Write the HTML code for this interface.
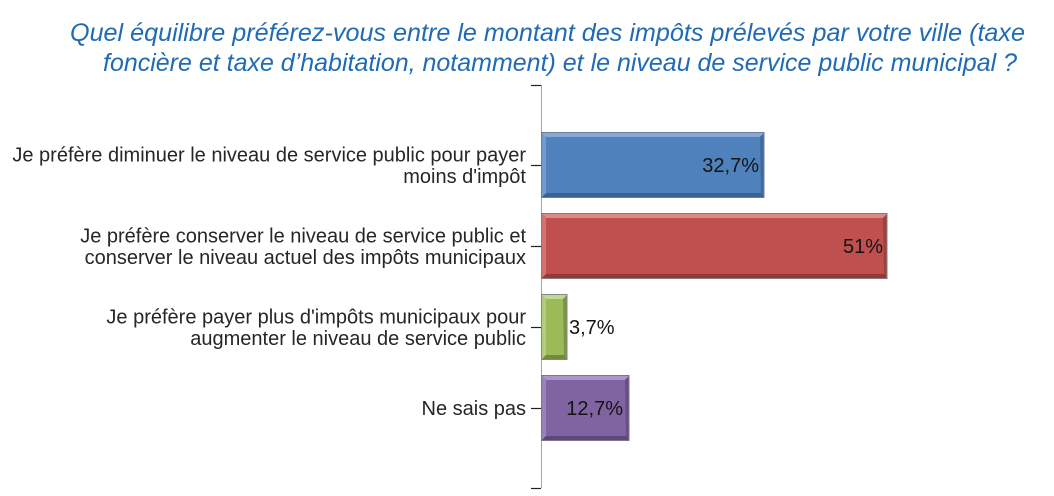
<!DOCTYPE html>
<html>
<head>
<meta charset="utf-8">
<style>
  html,body{margin:0;padding:0;background:#fff;}
  svg{display:block;}
  .t{font-family:"Liberation Sans",Arial,sans-serif;font-style:italic;font-size:25px;fill:#1f6bb5;}
  .l{font-family:"Liberation Sans",Arial,sans-serif;font-size:20px;fill:#262626;}
  .d{font-family:"Liberation Sans",Arial,sans-serif;font-size:20px;fill:#141414;}
</style>
</head>
<body>
<svg width="1054" height="496" viewBox="0 0 1054 496" xmlns="http://www.w3.org/2000/svg">
  <rect width="1054" height="496" fill="#fff"/>
  <!-- Title -->
  <text class="t" x="70" y="41" textLength="955" lengthAdjust="spacingAndGlyphs">Quel équilibre préférez-vous entre le montant des impôts prélevés par votre ville (taxe</text>
  <text class="t" x="103" y="71" textLength="914" lengthAdjust="spacingAndGlyphs">foncière et taxe d’habitation, notamment) et le niveau de service public municipal ?</text>

  <!-- Axis -->
  <line x1="541.5" y1="85" x2="541.5" y2="488" stroke="#a6a6a6" stroke-width="1"/>
  <g stroke="#222" stroke-width="1.2">
    <line x1="531" y1="85.5" x2="541" y2="85.5"/>
    <line x1="531" y1="165.5" x2="541" y2="165.5"/>
    <line x1="531" y1="246.5" x2="541" y2="246.5"/>
    <line x1="531" y1="327.5" x2="541" y2="327.5"/>
    <line x1="531" y1="408.5" x2="541" y2="408.5"/>
    <line x1="531" y1="488.5" x2="541" y2="488.5"/>
  </g>

  <!-- Bar 1 blue -->
  <g>
    <rect x="542" y="133" width="222" height="64" fill="#4f81bd"/>
    <polygon points="542,133 764,133 760,137 546,137" fill="#86a8d6"/>
    <polygon points="542,133 546,137 546,193 542,197" fill="#739bcf"/>
    <polygon points="542,197 764,197 761,193 546,193" fill="#3a6192"/>
    <polygon points="764,133 764,197 761,193 760,137" fill="#41699c"/>
    <rect x="541.5" y="132.5" width="222.5" height="65" fill="none" stroke="#6d7f96" stroke-width="1"/>
  </g>
  <!-- Bar 2 red -->
  <g>
    <rect x="542" y="214" width="345" height="64" fill="#c0504d"/>
    <polygon points="542,214 887,214 883,218 546,218" fill="#dc8a88"/>
    <polygon points="542,214 546,218 546,274 542,278" fill="#d27371"/>
    <polygon points="542,278 887,278 884,274 546,274" fill="#923a38"/>
    <polygon points="887,214 887,278 884,274 883,218" fill="#9d403e"/>
    <rect x="541.5" y="213.5" width="345.5" height="65" fill="none" stroke="#8a7a7e" stroke-width="1"/>
  </g>
  <!-- Bar 3 green -->
  <g>
    <rect x="542" y="295" width="25" height="64" fill="#9bbb59"/>
    <polygon points="542,295 567,295 563,299 546,299" fill="#c2d793"/>
    <polygon points="542,295 546,299 546,355 542,359" fill="#b2cb7d"/>
    <polygon points="542,359 567,359 564,355 546,355" fill="#718a40"/>
    <polygon points="567,295 567,359 564,355 563,299" fill="#7b9446"/>
    <rect x="541.5" y="294.5" width="25.5" height="65" fill="none" stroke="#7f8a80" stroke-width="1"/>
  </g>
  <!-- Bar 4 purple -->
  <g>
    <rect x="542" y="376" width="87" height="64" fill="#8064a2"/>
    <polygon points="542,376 629,376 625,380 546,380" fill="#aa95c4"/>
    <polygon points="542,376 546,380 546,436 542,440" fill="#9883b7"/>
    <polygon points="542,440 629,440 626,436 546,436" fill="#5d4879"/>
    <polygon points="629,376 629,440 626,436 625,380" fill="#664f84"/>
    <rect x="541.5" y="375.5" width="87.5" height="65" fill="none" stroke="#7c7690" stroke-width="1"/>
  </g>

  <!-- Data labels -->
  <text class="d" x="759" y="172" text-anchor="end">32,7%</text>
  <text class="d" x="883" y="253" text-anchor="end">51%</text>
  <text class="d" x="569" y="334">3,7%</text>
  <text class="d" x="623" y="415" text-anchor="end">12,7%</text>

  <!-- Category labels -->
  <text class="l" x="526" y="161.5" text-anchor="end">Je préfère diminuer le niveau de service public pour payer</text>
  <text class="l" x="526" y="183" text-anchor="end">moins d'impôt</text>
  <text class="l" x="526" y="242.5" text-anchor="end">Je préfère conserver le niveau de service public et</text>
  <text class="l" x="526" y="264" text-anchor="end">conserver le niveau actuel des impôts municipaux</text>
  <text class="l" x="526" y="323.5" text-anchor="end">Je préfère payer plus d'impôts municipaux pour</text>
  <text class="l" x="526" y="345" text-anchor="end">augmenter le niveau de service public</text>
  <text class="l" x="526" y="415" text-anchor="end">Ne sais pas</text>
</svg>
</body>
</html>
